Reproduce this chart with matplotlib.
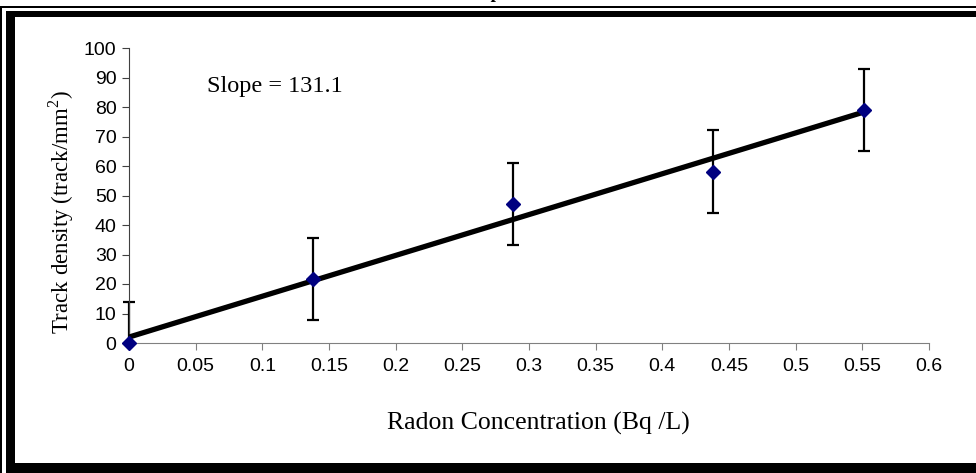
import numpy as np
import matplotlib.pyplot as plt
from matplotlib.patches import Rectangle

plt.rcParams['mathtext.fontset'] = 'custom'
plt.rcParams['mathtext.rm'] = 'Liberation Serif'

# data
radon_conc = [0.0, 0.138, 0.288, 0.438, 0.551]
track_density = [0.0, 21.7, 47.1, 58.1, 79.0]
track_err = [14, 14, 14, 14, 14]
x_ticks = [0, 0.05, 0.1, 0.15, 0.2, 0.25, 0.3, 0.35, 0.4, 0.45, 0.5, 0.55, 0.6]
x_tick_labels = ['0', '0.05', '0.1', '0.15', '0.2', '0.25', '0.3', '0.35', '0.4', '0.45', '0.5', '0.55', '0.6']
y_ticks = [0, 10, 20, 30, 40, 50, 60, 70, 80, 90, 100]

W, H = 976, 473
fig = plt.figure(figsize=(W / 100, H / 100), dpi=100)

# outer frame (thin + thick border), cut at the right edge
def px_rect(x0, y0, x1, y1):
    fig.patches.append(Rectangle((x0 / W, 1 - y1 / H), (x1 - x0) / W, (y1 - y0) / H,
                                 transform=fig.transFigure, facecolor='black',
                                 edgecolor='none', zorder=0))

px_rect(0, 6, W, 8)      # thin top line
px_rect(0, 6, 2, H)      # thin left line
px_rect(6, 11, W, 17)    # thick top
px_rect(6, 11, 15, H)    # thick left
px_rect(6, 463, W, H)    # thick bottom

# title, almost entirely cut off at the top
fig.text(0.505, 1.004, 'samples.', ha='center', va='baseline',
         fontfamily='Liberation Serif', fontweight='bold', fontsize=14)

ax = fig.add_axes([129 / W, 1 - 343 / H, 800 / W, 295 / H])

slope, intercept = np.polyfit(radon_conc, track_density, 1)
xfit = np.array([min(radon_conc), max(radon_conc)])
ax.plot(xfit, slope * xfit + intercept, color='black', lw=3.8, zorder=3,
        solid_capstyle='butt')

eb = ax.errorbar(radon_conc, track_density, yerr=track_err, fmt='none', ecolor='black',
                 elinewidth=1.6, capsize=4, capthick=1.6, zorder=2)
# clip only below the x axis, not at the left edge
clip = Rectangle((-0.05, 0), 1.1, 1.1, transform=ax.transAxes, facecolor='none')
for art in list(eb[1]) + list(eb[2]):
    art.set_clip_path(clip)

ax.plot(radon_conc, track_density, linestyle='none', marker='D', markersize=7,
        color='#000080', zorder=4, clip_on=False)

ax.set_xlim(0, 0.6)
ax.set_ylim(0, 100)
ax.set_xticks(x_ticks)
ax.set_xticklabels(x_tick_labels)
ax.set_yticks(y_ticks)

for s in ['top', 'right']:
    ax.spines[s].set_visible(False)
ax.spines['bottom'].set_color('#808080')
ax.spines['left'].set_color('#404040')
ax.tick_params(axis='x', colors='#808080', direction='out', length=5, pad=6,
               labelcolor='black', labelsize=14)
ax.tick_params(axis='y', colors='#404040', direction='out', length=5, pad=4,
               labelcolor='black', labelsize=14)
for lab in ax.get_xticklabels() + ax.get_yticklabels():
    lab.set_fontfamily('Liberation Sans')

ax.text(0.0585, 87, 'Slope = 131.1', fontfamily='Liberation Serif', fontsize=17.5,
        va='center', ha='left')

fig.text(538 / W, 1 - 423 / H, 'Radon Concentration (Bq /L)', ha='center', va='center',
         fontfamily='Liberation Serif', fontsize=18.5)
fig.text(61 / W, 1 - 212 / H, 'Track density (track/mm$^{2}$)', ha='center', va='center',
         rotation=90, fontfamily='Liberation Serif', fontsize=16.5)

fig.savefig('out.png', dpi=100)
